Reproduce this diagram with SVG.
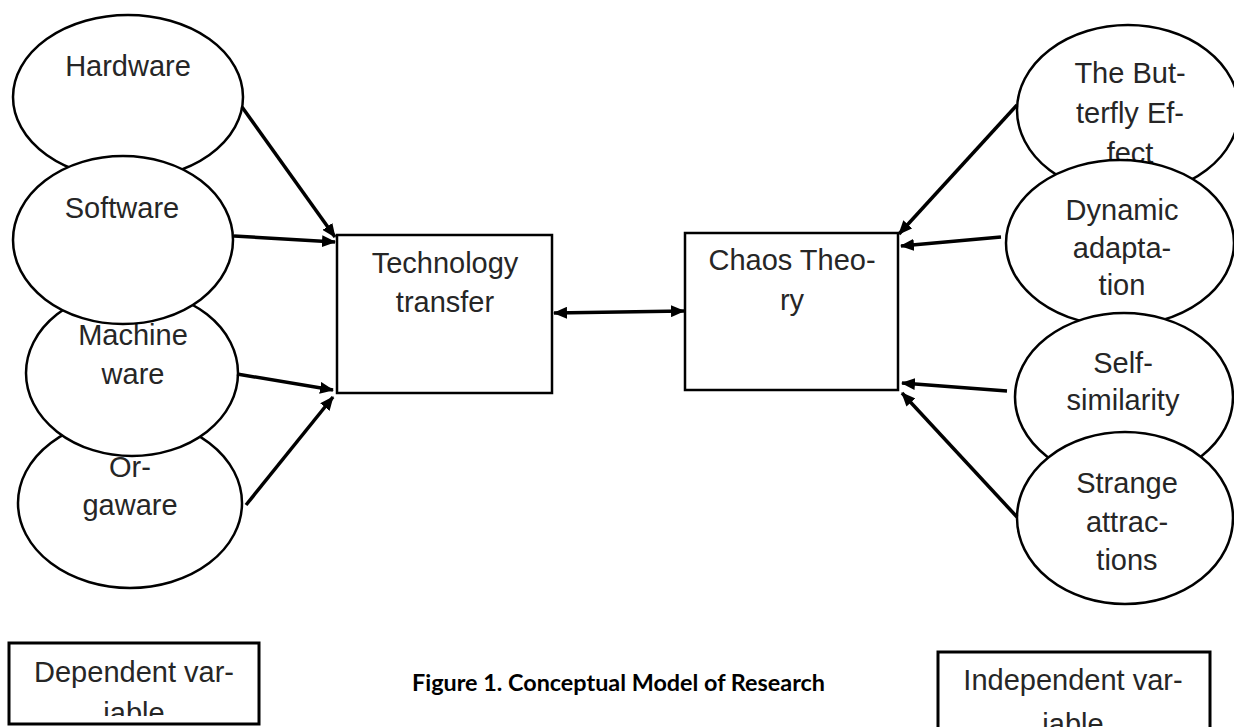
<svg xmlns="http://www.w3.org/2000/svg" width="1234" height="727" viewBox="0 0 1234 727">
<defs>
<style>
.e{fill:#fff;stroke:#000;stroke-width:2.5}
.b{fill:#fff;stroke:#000;stroke-width:2.5}
.t{font-family:"Liberation Sans",Arial,sans-serif;font-size:29px;fill:#262626;text-anchor:middle}
.c{stroke:#000;stroke-width:3.5;fill:none;marker-end:url(#ah)}
.cap{font-family:Lato,"Liberation Sans",sans-serif;font-weight:bold;font-size:22px;fill:#000}
</style>
<marker id="ah" viewBox="0 0 14 12" refX="13" refY="6" markerWidth="14" markerHeight="12" markerUnits="userSpaceOnUse" orient="auto-start-reverse">
<path d="M0,0 L14,6 L0,12 z" fill="#000"/>
</marker>
<clipPath id="clipDep"><rect x="9" y="643" width="250" height="73"/></clipPath>
</defs>
<rect width="1234" height="727" fill="#fff"/>

<g id="hardware">
<ellipse class="e" cx="128" cy="97" rx="115" ry="82"/>
<text class="t" x="128" y="76">Hardware</text>
</g>
<g id="orgaware">
<ellipse class="e" cx="130" cy="503" rx="112" ry="85"/>
<text class="t" x="130" y="477">Or-</text>
<text class="t" x="130" y="515">gaware</text>
</g>
<g id="machineware">
<ellipse class="e" cx="132" cy="373" rx="106" ry="83"/>
<text class="t" x="133" y="345">Machine</text>
<text class="t" x="133" y="384">ware</text>
</g>
<g id="software">
<ellipse class="e" cx="123" cy="240" rx="110" ry="84"/>
<text class="t" x="122" y="218">Software</text>
</g>

<g id="butterfly">
<ellipse class="e" cx="1128" cy="110" rx="111" ry="85"/>
<text class="t" x="1130" y="83">The But-</text>
<text class="t" x="1130" y="123">terfly Ef-</text>
<text class="t" x="1130" y="163">fect</text>
</g>
<g id="dynamic">
<ellipse class="e" cx="1120" cy="243" rx="114" ry="83"/>
<text class="t" x="1122" y="220">Dynamic</text>
<text class="t" x="1122" y="258">adapta-</text>
<text class="t" x="1122" y="295">tion</text>
</g>
<g id="selfsimilarity">
<ellipse class="e" cx="1124" cy="397" rx="109" ry="84"/>
<text class="t" x="1123" y="373">Self-</text>
<text class="t" x="1123" y="410">similarity</text>
</g>
<g id="strange">
<ellipse class="e" cx="1125" cy="518" rx="108" ry="86"/>
<text class="t" x="1127" y="493">Strange</text>
<text class="t" x="1127" y="532">attrac-</text>
<text class="t" x="1127" y="570">tions</text>
</g>

<g id="tech">
<rect class="b" x="337" y="235" width="215" height="158"/>
<text class="t" x="445" y="273">Technology</text>
<text class="t" x="445" y="312">transfer</text>
</g>
<g id="chaos">
<rect class="b" x="685" y="233" width="213" height="157"/>
<text class="t" x="792" y="270">Chaos Theo-</text>
<text class="t" x="792" y="310">ry</text>
</g>

<g id="connectors">
<line class="c" x1="242" y1="107" x2="335" y2="237"/>
<line class="c" x1="234" y1="236" x2="335" y2="242"/>
<line class="c" x1="237" y1="374" x2="333" y2="390"/>
<line class="c" x1="246" y1="505" x2="333" y2="397"/>
<line class="c" x1="1017" y1="105" x2="899" y2="234"/>
<line class="c" x1="1001" y1="237" x2="901" y2="246"/>
<line class="c" x1="1007" y1="391" x2="902" y2="383"/>
<line class="c" x1="1017" y1="517" x2="902" y2="393"/>
<line class="c" x1="554" y1="313" x2="684" y2="311" stroke-width="3" marker-start="url(#ah)"/>
</g>

<g id="dependent">
<rect x="9" y="643" width="250" height="81" fill="#fff" stroke="#000" stroke-width="3"/>
<g clip-path="url(#clipDep)">
<text class="t" x="134" y="682">Dependent var-</text>
<text class="t" x="134" y="723">iable</text>
</g>
</g>
<g id="independent">
<rect x="938" y="652" width="272" height="90" fill="#fff" stroke="#000" stroke-width="3"/>
<text class="t" x="1073" y="690">Independent var-</text>
<text class="t" x="1073" y="734">iable</text>
</g>
<text class="cap" x="412" y="691" textLength="413" lengthAdjust="spacingAndGlyphs">Figure 1. Conceptual Model of Research</text>
</svg>
